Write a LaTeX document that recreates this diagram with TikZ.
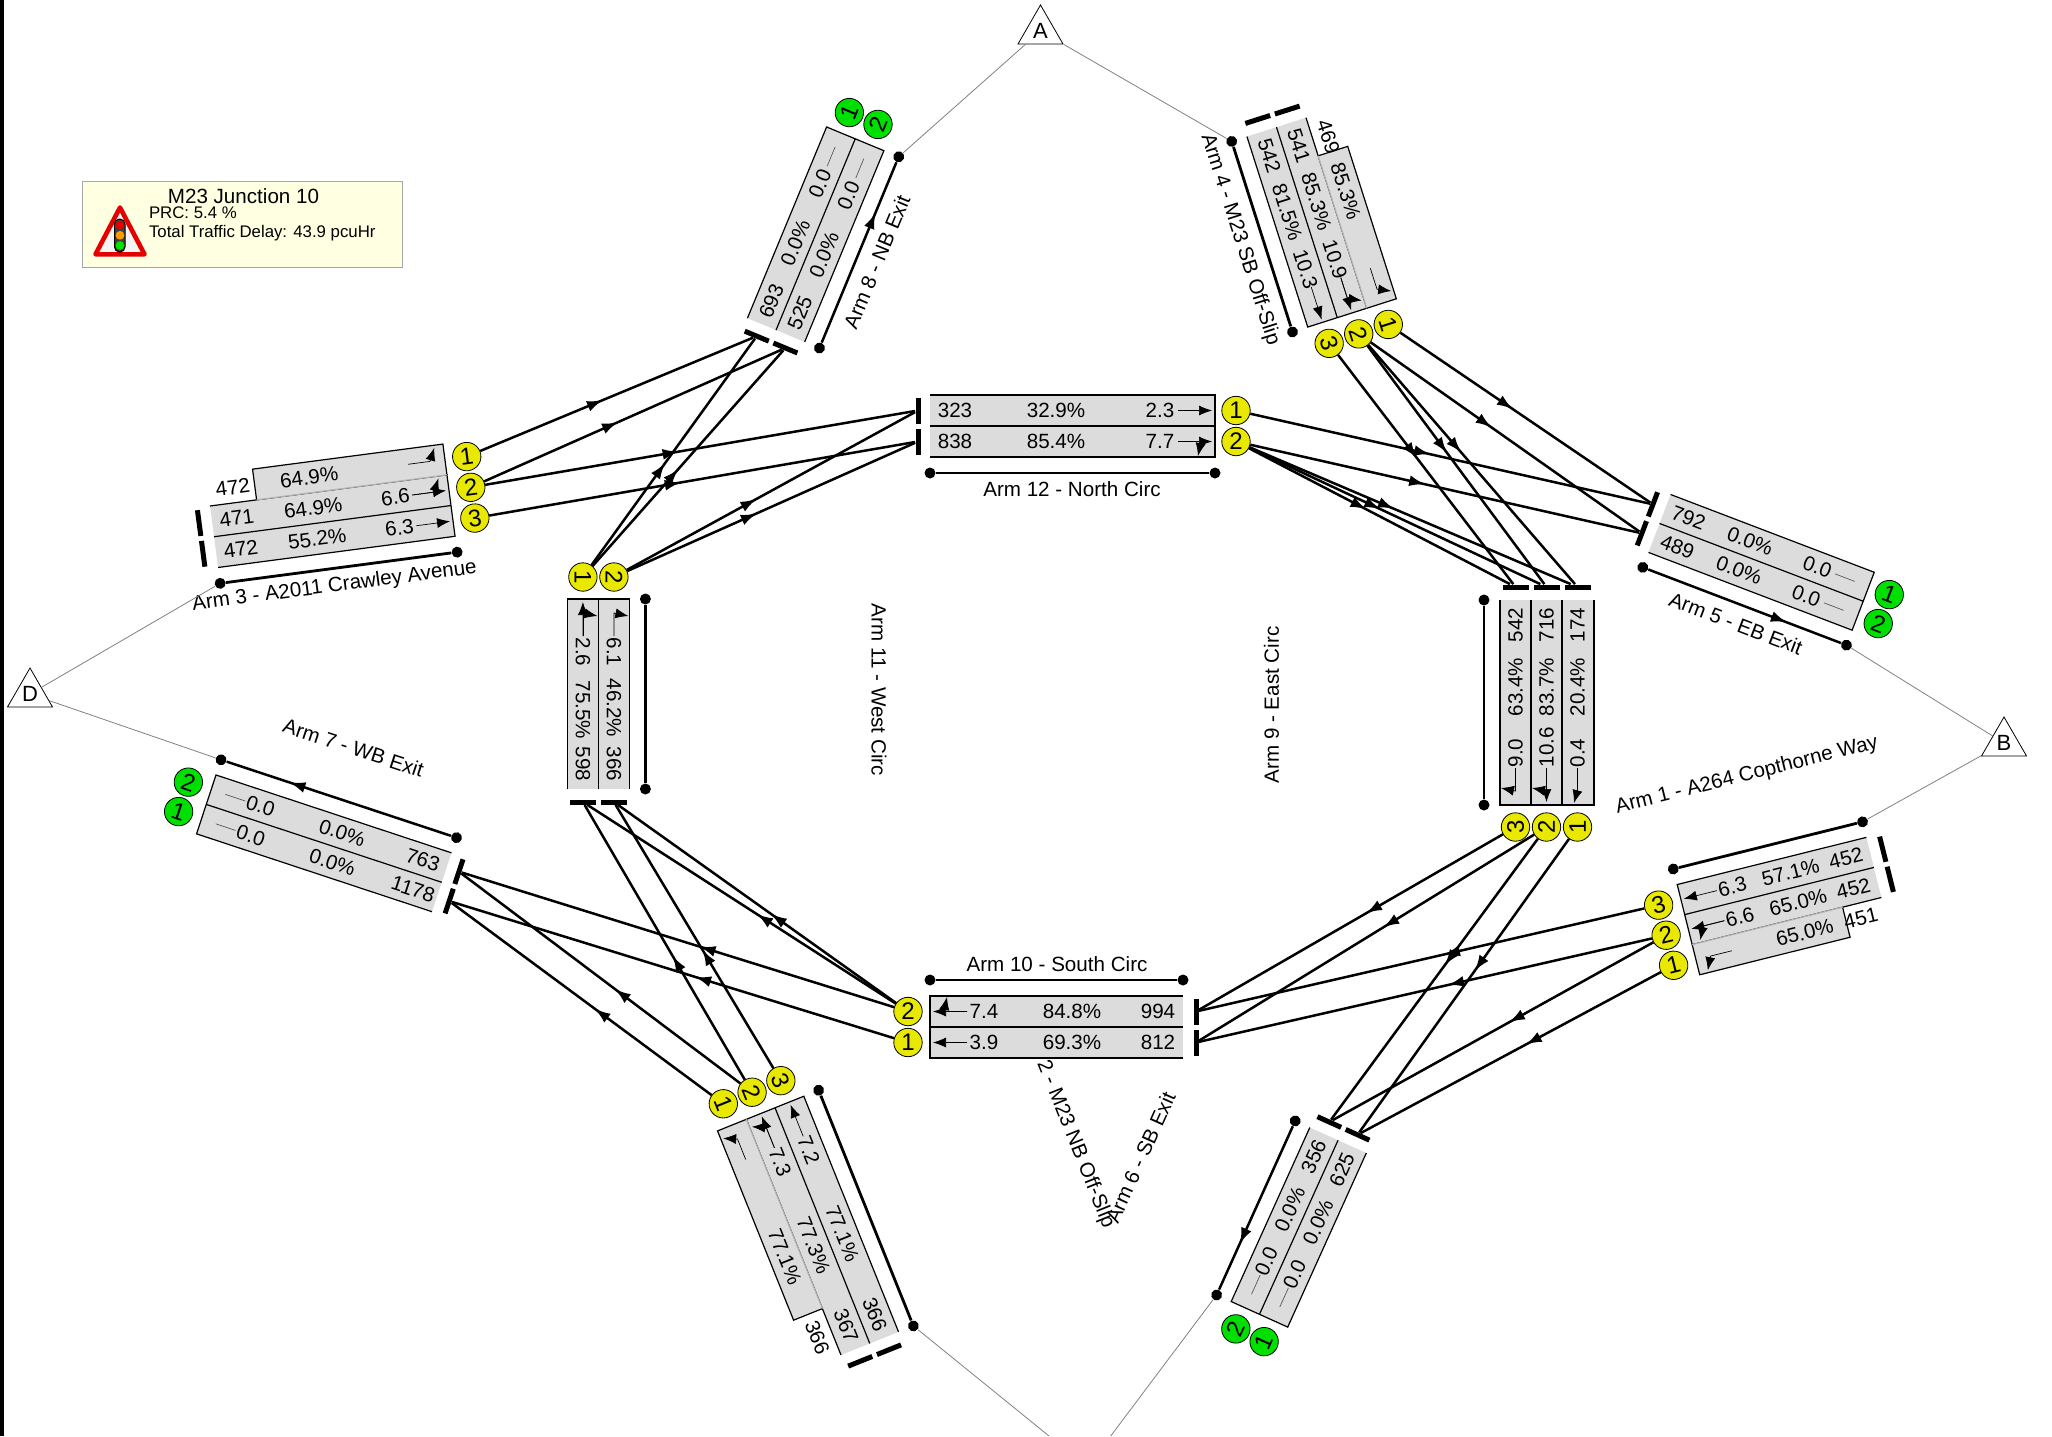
\documentclass[tikz,border=0pt]{standalone}
\usepackage{fontspec}
\setmainfont{Liberation Sans}
\usetikzlibrary{arrows.meta}
\usetikzlibrary{decorations.markings}
\usetikzlibrary{shapes.geometric}
\definecolor{lanegray}{RGB}{220,220,220}
\definecolor{sigyellow}{RGB}{232,232,0}
\definecolor{siggreen}{RGB}{0,224,0}
\definecolor{notepaper}{RGB}{255,255,226}
\tikzset{val/.style = {font=\fontsize{10.3}{12}\selectfont, inner sep=0, transform shape}}
\tikzset{sig/.style = {circle, draw, fill=sigyellow, line width=.4pt, inner sep=0, minimum size=14.2pt,
                       font=\fontsize{12}{12}\selectfont, transform shape}}
\tikzset{exitsig/.style = {sig, fill=siggreen}}
\tikzset{stopbar/.style = {fill=black, inner sep=0, minimum width=2.5pt, minimum height=13pt, transform shape}}
\tikzset{armdot/.style = {circle, fill=black, inner sep=0, minimum size=5.5pt, transform shape}}
\tikzset{armline/.style = {line width=1.4pt}}
\tikzset{flow/.style = {line width=1.25pt,
                        decoration={markings,
                                    mark=at position #1 with {\arrow{Latex[length=8pt,width=5.5pt]}}},
                        postaction={decorate}},
         flow/.default = .45}
\tikzset{laneflow/.style = {-{Latex[length=6.5pt,width=5pt]}, line width=.35pt}}
\tikzset{lanedash/.style = {line width=.35pt, black!65}}
\tikzset{laneedge/.style = {line width=.6pt}}
\tikzset{linkline/.style = {line width=.4pt, gray}}
\tikzset{junc/.style = {regular polygon, regular polygon sides=3, draw, fill=white, line width=.4pt,
                        inner sep=0, minimum size=26pt, font=\fontsize{11}{12}\selectfont}}
\tikzset{flipped/.style = {every node/.append style={rotate=180}}}
% two full lanes, #1 = length
\newcommand{\lanes}[1]{\fill[lanegray] (0,0) rectangle (#1,62);
  \draw[laneedge] (0,0) -- (#1,0) -- (#1,62) -- (0,62) (0,31) -- (#1,31);}
% short lane on the left of them, #1 = length, #2 = where it starts
\newcommand{\shortlane}[2]{\fill[lanegray] (#2,-31) rectangle (#1,0);
  \draw[laneedge] (#2,0) -- (#2,-31) -- (#1,-31) -- (#1,0);
  \draw[line width=.6pt, gray!60] (#2,0) -- (#1,0);}
\newcommand{\lanevals}[5]{\node[val] (#1f) at (25,#2) {#3};
  \node[val] (#1p) at (#4,#2) {#5};}
\newcommand{\ahead}[2]{\draw[laneflow] (#1-37,#2) -- (#1-3,#2);}
\newcommand{\leftturn}[2]{\draw[laneflow] (#1-37,#2) -- (#1-15,#2) -- (#1-9,#2-13);}
\newcommand{\rightturn}[2]{\draw[laneflow] (#1-37,#2) -- (#1-14,#2) -- (#1-17,#2+14.5);}
\newcommand{\nothing}[2]{\draw[lanedash] (#1-36,#2) -- (#1-15,#2);}

\begin{document}
\begin{tikzpicture}[x=.5pt, y=-.5pt]
  \useasboundingbox (0,0) rectangle (2052,1436);
  \fill (0,0) rectangle (4,1436);

  % note
  \draw[line width=.5pt, fill=notepaper, draw=black!35] (82.5,181) rectangle (402,267.5);
  \node[val] (title) at (243.5,196) {M23 Junction 10};
  \node[val, font=\fontsize{8.4}{10}\selectfont, anchor=west] (prc) at (148.6,213) {PRC: 5.4 \%};
  \node[val, font=\fontsize{8.4}{10}\selectfont, anchor=west] (delay) at (148.6,233) {Total Traffic Delay: 43.9 pcuHr};
  \draw[line width=2.3pt, red!90!black, line join=round, fill=black!4] (120,207.5) -- (144.5,254.3) -- (95.5,254.3) -- cycle;
  \draw[line width=.5pt, fill=black!75, rounded corners=2.5pt] (114.5,219) rectangle (125,252);
  \fill[red!90!black] (120,225) circle [radius=4.4];
  \fill[orange!80!yellow] (120,235.3) circle [radius=4.4];
  \fill[green!90!black] (120,245.5) circle [radius=4.4];

  \node[junc] (jA) at (1040.5,31) {A};
  \node[junc] (jB) at (2004,743) {B};
  \node[junc] (jD) at (30,694) {D};
  \coordinate (jCl) at (1049,1436);
  \coordinate (jCr) at (1110.7,1436);

  % Arm 1
  \begin{scope}[shift={(1881.4,897.5)}, rotate=194, flipped]
    \lanes{195} \shortlane{195}{40}
    \lanevals{a1r1}{-15.5}{451}{83}{65.0\%}
    \lanevals{a1r2}{15.5}{452}{82}{65.0\%}
    \lanevals{a1r3}{46.5}{452}{82}{57.1\%}
    \node[val] (a1r2q) at (142,15.5) {6.6};
    \node[val] (a1r3q) at (142,46.5) {6.3};
    \leftturn{195}{-15.5} \ahead{195}{15.5} \leftturn{195}{15.5} \ahead{195}{46.5}
    \node[sig] (a1s1) at (218,-15.5) {1};
    \node[sig] (a1s2) at (218,15.5) {2};
    \node[sig] (a1s3) at (218,46.5) {3};
    \node[stopbar] (a1b1) at (-13,15.5) {};
    \node[stopbar] (a1b2) at (-13,46.5) {};
    \node[armdot] (a1u) at (0,78) {};
    \node[armdot] (a1v) at (195,78) {};
    \draw[armline] (a1u) -- (a1v);
    \node[val] (a1name) at (101,151) {Arm 1 - A264 Copthorne Way};
  \end{scope}

  % Arm 2
  \begin{scope}[shift={(841,1355)}, rotate=111.9, flipped]
    \lanes{254} \shortlane{254}{50}
    \lanevals{a2r1}{-15.5}{366}{112}{77.1\%}
    \lanevals{a2r2}{15.5}{367}{112}{77.3\%}
    \lanevals{a2r3}{46.5}{366}{112}{77.1\%}
    \node[val] (a2r2q) at (202,15.5) {7.3};
    \node[val] (a2r3q) at (202,46.5) {7.2};
    \leftturn{254}{-15.5} \ahead{254}{15.5} \leftturn{254}{15.5} \ahead{254}{46.5}
    \node[sig] (a2s1) at (277,-15.5) {1};
    \node[sig] (a2s2) at (277,15.5) {2};
    \node[sig] (a2s3) at (277,46.5) {3};
    \node[stopbar] (a2b1) at (-13,15.5) {};
    \node[stopbar] (a2b2) at (-13,46.5) {};
    \node[armdot] (a2u) at (0,78) {};
    \node[armdot] (a2v) at (254,78) {};
    \draw[armline] (a2u) -- (a2v);
    \node[val] (a2name) at (108,296) {2 - M23 NB Off-Slip};
  \end{scope}

  % Arm 3
  \begin{scope}[shift={(210,506)}, rotate=7.5]
    \lanes{239} \shortlane{239}{47}
    \lanevals{a3r1}{-15.5}{472}{102}{64.9\%}
    \lanevals{a3r2}{15.5}{471}{102}{64.9\%}
    \lanevals{a3r3}{46.5}{472}{102}{55.2\%}
    \node[val] (a3r2q) at (185,15.5) {6.6};
    \node[val] (a3r3q) at (185,46.5) {6.3};
    \leftturn{239}{-15.5} \ahead{239}{15.5} \leftturn{239}{15.5} \ahead{239}{46.5}
    \node[sig] (a3s1) at (261,-15.5) {1};
    \node[sig] (a3s2) at (261,15.5) {2};
    \node[sig] (a3s3) at (261,46.5) {3};
    \node[stopbar] (a3b1) at (-13,15.5) {};
    \node[stopbar] (a3b2) at (-13,46.5) {};
    \node[armdot] (a3u) at (0,78) {};
    \node[armdot] (a3v) at (239,78) {};
    \draw[armline] (a3u) -- (a3v);
    \node[val] (a3name) at (113,96) {Arm 3 - A2011 Crawley Avenue};
  \end{scope}

  % Arm 4
  \begin{scope}[shift={(1306,117.7)}, rotate=-72.3]
    \lanes{200} \shortlane{200}{40}
    \lanevals{a4r1}{-15.5}{469}{82}{85.3\%}
    \lanevals{a4r2}{15.5}{541}{83}{85.3\%}
    \lanevals{a4r3}{46.5}{542}{84}{81.5\%}
    \node[val] (a4r2q) at (144,15.5) {10.9};
    \node[val] (a4r3q) at (144,46.5) {10.3};
    \leftturn{200}{-15.5} \ahead{200}{15.5} \leftturn{200}{15.5} \ahead{200}{46.5}
    \node[sig] (a4s1) at (222,-15.5) {1};
    \node[sig] (a4s2) at (222,15.5) {2};
    \node[sig] (a4s3) at (222,46.5) {3};
    \node[stopbar] (a4b1) at (-13,15.5) {};
    \node[stopbar] (a4b2) at (-13,46.5) {};
    \node[armdot] (a4u) at (0,78) {};
    \node[armdot] (a4v) at (200,78) {};
    \draw[armline] (a4u) -- (a4v);
    \node[val] (a4name) at (96,100) {Arm 4 - M23 SB Off-Slip};
  \end{scope}

  % Arm 5
  \begin{scope}[shift={(1670.6,494.5)}, rotate=-20.9]
    \lanes{218}
    \lanevals{a5r1}{15.5}{792}{91}{0.0\%}
    \lanevals{a5r2}{46.5}{489}{91}{0.0\%}
    \node[val] (a5r1q) at (163,15.5) {0.0};
    \node[val] (a5r2q) at (163,46.5) {0.0};
    \nothing{218}{15.5} \nothing{218}{46.5}
    \node[exitsig] (a5s1) at (240,15.5) {1};
    \node[exitsig] (a5s2) at (240,46.5) {2};
    \node[stopbar] (a5b1) at (-13,15.5) {};
    \node[stopbar] (a5b2) at (-13,46.5) {};
    \node[armdot] (a5u) at (0,78) {};
    \node[armdot] (a5v) at (218,78) {};
    \draw[armline, flow=.72] (a5u) -- (a5v);
    \node[val] (a5name) at (107,97) {Arm 5 - EB Exit};
  \end{scope}

  % Arm 6
  \begin{scope}[shift={(1366.3,1153)}, rotate=-114.3, flipped]
    \lanes{191}
    \lanevals{a6r1}{15.5}{625}{83}{0.0\%}
    \lanevals{a6r2}{46.5}{356}{83}{0.0\%}
    \node[val] (a6r1q) at (140,15.5) {0.0};
    \node[val] (a6r2q) at (140,46.5) {0.0};
    \nothing{191}{15.5} \nothing{191}{46.5}
    \node[exitsig] (a6s1) at (214,15.5) {1};
    \node[exitsig] (a6s2) at (214,46.5) {2};
    \node[stopbar] (a6b1) at (-13,15.5) {};
    \node[stopbar] (a6b2) at (-13,46.5) {};
    \node[armdot] (a6u) at (0,78) {};
    \node[armdot] (a6v) at (191,78) {};
    \draw[armline, flow=.72] (a6u) -- (a6v);
    \node[val] (a6name) at (97,204) {Arm 6 - SB Exit};
  \end{scope}

  % Arm 7
  \begin{scope}[shift={(432,911.7)}, rotate=161.7, flipped]
    \lanes{248}
    \lanevals{a7r1}{15.5}{1178}{110}{0.0\%}
    \lanevals{a7r2}{46.5}{763}{110}{0.0\%}
    \node[val] (a7r1q) at (196,15.5) {0.0};
    \node[val] (a7r2q) at (196,46.5) {0.0};
    \nothing{248}{15.5} \nothing{248}{46.5}
    \node[exitsig] (a7s1) at (272,15.5) {1};
    \node[exitsig] (a7s2) at (272,46.5) {2};
    \node[stopbar] (a7b1) at (-13,15.5) {};
    \node[stopbar] (a7b2) at (-13,46.5) {};
    \node[armdot] (a7u) at (0,78) {};
    \node[armdot] (a7v) at (248,78) {};
    \draw[armline, flow=.72] (a7u) -- (a7v);
    \node[val] (a7name) at (126,131) {Arm 7 - WB Exit};
  \end{scope}

  % Arm 8
  \begin{scope}[shift={(747.4,318.2)}, rotate=67.5]
    \lanes{207}
    \lanevals{a8r1}{15.5}{693}{88}{0.0\%}
    \lanevals{a8r2}{46.5}{525}{88}{0.0\%}
    \node[val] (a8r1q) at (152,15.5) {0.0};
    \node[val] (a8r2q) at (152,46.5) {0.0};
    \nothing{207}{15.5} \nothing{207}{46.5}
    \node[exitsig] (a8s1) at (229,15.5) {1};
    \node[exitsig] (a8s2) at (229,46.5) {2};
    \node[stopbar] (a8b1) at (-13,15.5) {};
    \node[stopbar] (a8b2) at (-13,46.5) {};
    \node[armdot] (a8u) at (0,78) {};
    \node[armdot] (a8v) at (207,78) {};
    \draw[armline, flow=.72] (a8u) -- (a8v);
    \node[val] (a8name) at (101.5,98) {Arm 8 - NB Exit};
  \end{scope}

  % Arm 9
  \begin{scope}[shift={(1562,600)}, rotate=-90, flipped]
    \lanes{205}
    \fill[lanegray] (0,-32) rectangle (205,0);
    \draw[laneedge] (0,0) -- (205,0) (0,-32) -- (205,-32) -- (205,0);
    \lanevals{a9r1}{-15.5}{174}{87}{20.4\%}
    \lanevals{a9r2}{15.5}{716}{87}{83.7\%}
    \lanevals{a9r3}{46.5}{542}{87}{63.4\%}
    \node[val] (a9r1q) at (153,-15.5) {0.4};
    \node[val] (a9r2q) at (147,15.5) {10.6};
    \node[val] (a9r3q) at (153,46.5) {9.0};
    \draw[laneflow] (168,-15.5) -- (190,-15.5) -- (203,-12);
    \ahead{205}{15.5} \rightturn{205}{15.5} \rightturn{205}{46.5}
    \node[sig] (a9s1) at (227,-15.5) {1};
    \node[sig] (a9s2) at (227,15.5) {2};
    \node[sig] (a9s3) at (227,46.5) {3};
    \node[stopbar] (a9b1) at (-13,-15.5) {};
    \node[stopbar] (a9b2) at (-13,15.5) {};
    \node[stopbar] (a9b3) at (-13,46.5) {};
    \node[armdot] (a9u) at (0,78) {};
    \node[armdot] (a9v) at (205,78) {};
    \draw[armline] (a9u) -- (a9v);
    \node[val] (a9name) at (105,290.6) {Arm 9 - East Circ};
  \end{scope}

  % Arm 10
  \begin{scope}[shift={(1183,1058)}, rotate=180, flipped]
    \lanes{253}
    \lanevals{a10r1}{15.5}{812}{111}{69.3\%}
    \lanevals{a10r2}{46.5}{994}{111}{84.8\%}
    \node[val] (a10r1q) at (199,15.5) {3.9};
    \node[val] (a10r2q) at (199,46.5) {7.4};
    \ahead{253}{15.5} \ahead{253}{46.5} \rightturn{253}{46.5}
    \node[sig] (a10s1) at (275,15.5) {1};
    \node[sig] (a10s2) at (275,46.5) {2};
    \node[stopbar] (a10b1) at (-13,15.5) {};
    \node[stopbar] (a10b2) at (-13,46.5) {};
    \node[armdot] (a10u) at (0,78) {};
    \node[armdot] (a10v) at (253,78) {};
    \draw[armline] (a10u) -- (a10v);
    \node[val] (a10name) at (126,94) {Arm 10 - South Circ};
  \end{scope}

  % Arm 11
  \begin{scope}[shift={(567.4,789)}, rotate=90, flipped]
    \lanes{190}
    \lanevals{a11r1}{15.5}{598}{79}{75.5\%}
    \lanevals{a11r2}{46.5}{366}{81}{46.2\%}
    \node[val] (a11r1q) at (137,15.5) {2.6};
    \node[val] (a11r2q) at (137,46.5) {6.1};
    \ahead{190}{15.5} \rightturn{190}{15.5} \rightturn{190}{46.5}
    \node[sig] (a11s1) at (212,15.5) {1};
    \node[sig] (a11s2) at (212,46.5) {2};
    \node[stopbar] (a11b1) at (-13,15.5) {};
    \node[stopbar] (a11b2) at (-13,46.5) {};
    \node[armdot] (a11u) at (0,78) {};
    \node[armdot] (a11v) at (190,78) {};
    \draw[armline] (a11u) -- (a11v);
    \node[val] (a11name) at (99,311.6) {Arm 11 - West Circ};
  \end{scope}

  % Arm 12
  \begin{scope}[shift={(930,395)}]
    \lanes{285}
    \lanevals{a12r1}{15.5}{323}{126}{32.9\%}
    \lanevals{a12r2}{46.5}{838}{126}{85.4\%}
    \node[val] (a12r1q) at (230,15.5) {2.3};
    \node[val] (a12r2q) at (230,46.5) {7.7};
    \ahead{285}{15.5} \ahead{285}{46.5} \rightturn{285}{46.5}
    \node[sig] (a12s1) at (306,15.5) {1};
    \node[sig] (a12s2) at (306,46.5) {2};
    \node[stopbar] (a12b1) at (-12,15.5) {};
    \node[stopbar] (a12b2) at (-12,46.5) {};
    \node[armdot] (a12u) at (0,78) {};
    \node[armdot] (a12v) at (285,78) {};
    \draw[armline] (a12u) -- (a12v);
    \node[val] (a12name) at (142,94) {Arm 12 - North Circ};
  \end{scope}

  % links to the junctions
  \draw[linkline] (jA) -- (a8v);
  \draw[linkline] (jA) -- (a4u);
  \draw[linkline] (jB) -- (a5v);
  \draw[linkline] (jB) -- (a1u);
  \draw[linkline] (jD) -- (a3u);
  \draw[linkline] (jD) -- (a7v);
  \draw[linkline] (a2u) -- (jCl);
  \draw[linkline] (a6v) -- (jCr);

  % traffic flows
  \draw[flow] (a3s1) -- (a8b1);
  \draw[flow] (a3s2) -- (a8b2);
  \draw[flow] (a3s2) -- (a12b1);
  \draw[flow] (a3s3) -- (a12b2);
  \draw[flow] (a11s1) -- (a8b1);
  \draw[flow] (a11s1) -- (a8b2);
  \draw[flow] (a11s2) -- (a12b1);
  \draw[flow] (a11s2) -- (a12b2);
  \draw[flow] (a12s1) -- (a5b1);
  \draw[flow] (a12s2) -- (a5b2);
  \draw[flow] (a12s2) -- (a9b1);
  \draw[flow] (a12s2) -- (a9b2);
  \draw[flow] (a12s2) -- (a9b3);
  \draw[flow] (a4s1) -- (a5b1);
  \draw[flow] (a4s2) -- (a5b2);
  \draw[flow] (a4s2) -- (a9b1);
  \draw[flow] (a4s2) -- (a9b2);
  \draw[flow] (a4s3) -- (a9b3);
  \draw[flow] (a9s3) -- (a10b2);
  \draw[flow] (a9s2) -- (a10b1);
  \draw[flow] (a9s2) -- (a6b2);
  \draw[flow] (a9s1) -- (a6b1);
  \draw[flow] (a1s3) -- (a10b2);
  \draw[flow] (a1s2) -- (a10b1);
  \draw[flow] (a1s2) -- (a6b2);
  \draw[flow] (a1s1) -- (a6b1);
  \draw[flow] (a10s2) -- (a11b1);
  \draw[flow] (a10s2) -- (a11b2);
  \draw[flow] (a10s2) -- (a7b2);
  \draw[flow] (a10s1) -- (a7b1);
  \draw[flow] (a2s1) -- (a7b1);
  \draw[flow] (a2s2) -- (a7b2);
  \draw[flow] (a2s2) -- (a11b1);
  \draw[flow] (a2s3) -- (a11b2);
\end{tikzpicture}
\end{document}
